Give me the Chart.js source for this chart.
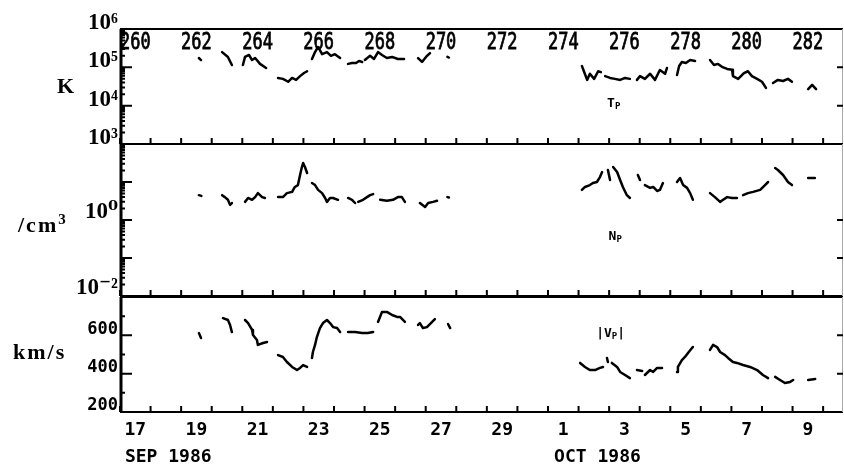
<!DOCTYPE html>
<html>
<head>
<meta charset="utf-8">
<title>Solar wind plasma, Sep - Oct 1986</title>
<script src="https://cdn.jsdelivr.net/npm/chart.js@4.4.1/dist/chart.umd.min.js"></script>
<style>
  body { margin: 0; background: #fff; }
  #plot { position: relative; width: 844px; height: 468px; background: #fff; overflow: hidden; }
  #plot canvas { position: absolute; left: 0; }
  .unit { position: absolute; font: bold 22px "Liberation Serif", "DejaVu Serif", serif; color: #000; line-height: 1; white-space: nowrap; }
  .unit sup { font-size: 15px; vertical-align: 8px; line-height: 0; }
</style>
</head>
<body>
<div id="plot">
  <canvas id="tpChart" width="844" height="146" style="top:0"></canvas>
  <canvas id="npChart" width="844" height="160" style="top:140px"></canvas>
  <canvas id="vpChart" width="844" height="175" style="top:293px"></canvas>
  <div class="unit" style="left:57px;top:75px">K</div>
  <div class="unit" style="left:18px;top:214px;letter-spacing:2px">/cm<sup>3</sup></div>
  <div class="unit" style="left:13px;top:341px;letter-spacing:2px">km/s</div>
</div>
<script>
// time axis is day of year 1986 (260 = 17 Sep)
var dayMin = 260;
var dayMax = 283.65;

var doyTickDays = [260.5, 262.5, 264.5, 266.5, 268.5, 270.5, 272.5, 274.5, 276.5, 278.5, 280.5, 282.5];
var doyTickLabels = ["260", "262", "264", "266", "268", "270", "272", "274", "276", "278", "280", "282"];
var dateTickLabels = ["17", "19", "21", "23", "25", "27", "29", "1", "3", "5", "7", "9"];
var monthDays = [260.16, 274.2];
var monthLabels = ["SEP 1986", "OCT 1986"];

var tempTicks = [1e3, 1e4, 1e5, 1e6];
var tempTickLabels = ["10³", "10⁴", "10⁵", "10⁶"];
var densTicks = [1e-2, 1e-1, 1, 10, 100];
var densTickLabels = ["10⁻²", "", "10⁰", "", ""];
var speedTicks = [200, 300, 400, 500, 600, 700, 800];
var speedTickLabels = ["200", "", "400", "", "600", "", ""];

// proton temperature Tp (K), null = data gap
var tpDays = [
  262.58, 262.65, 263.0,
  263.34, 263.53, 263.66, 263.8,
  264.02, 264.09, 264.22, 264.32, 264.42, 264.58, 264.78, 265.0,
  265.17, 265.33, 265.50, 265.63, 265.76, 265.89, 266.02, 266.12, 266.2,
  266.28, 266.38, 266.48, 266.61, 266.77, 266.90, 267.03, 267.20, 267.3,
  267.46, 267.59, 267.72, 267.82, 267.92, 267.96,
  268.01, 268.18, 268.31, 268.44, 268.57, 268.73, 268.90, 269.09, 269.29, 269.5,
  269.75, 269.88, 270.01, 270.14, 270.4,
  270.71, 270.76, 272.0,
  275.11, 275.28, 275.37, 275.51, 275.64, 275.73, 275.8,
  275.87, 276.03, 276.19, 276.36, 276.52, 276.68, 276.8,
  276.91, 277.01, 277.17, 277.34, 277.50, 277.66, 277.83, 277.89, 278.0,
  278.22, 278.29, 278.38, 278.51, 278.65, 278.81, 279.0,
  279.30, 279.43, 279.56, 279.69, 279.86, 280.02, 280.05, 280.22, 280.41, 280.54, 280.67, 280.84, 281.00, 281.13, 281.25,
  281.36, 281.52, 281.69, 281.85, 281.98, 282.2,
  282.51, 282.64, 282.77
];
var tpValues = [
  1.75e5, 1.55e5, null,
  2.5e5, 1.86e5, 1.15e5, null,
  1.15e5, 1.87e5, 2.1e5, 1.55e5, 1.75e5, 1.23e5, 9.6e4, null,
  5.3e4, 5.0e4, 4.2e4, 5.3e4, 4.7e4, 5.9e4, 7.1e4, 7.9e4, null,
  1.65e5, 2.5e5, 3.4e5, 2.2e5, 2.5e5, 2.0e5, 2.2e5, 1.75e5, null,
  1.23e5, 1.3e5, 1.3e5, 1.47e5, 1.38e5, null,
  1.55e5, 2.0e5, 1.65e5, 2.5e5, 2.1e5, 1.75e5, 1.87e5, 1.65e5, 1.65e5, null,
  1.75e5, 1.38e5, 1.87e5, 2.35e5, null,
  1.87e5, 1.8e5, null,
  1.08e5, 4.7e4, 6.8e4, 5.0e4, 7.9e4, 7.5e4, null,
  5.9e4, 5.3e4, 5.0e4, 4.7e4, 5.3e4, 5.0e4, null,
  4.7e4, 5.9e4, 5.0e4, 6.8e4, 4.7e4, 8.5e4, 6.8e4, 9.6e4, null,
  6.3e4, 1.08e5, 1.38e5, 1.3e5, 1.55e5, 1.47e5, null,
  1.55e5, 1.15e5, 1.23e5, 1.03e5, 9.1e4, 8.6e4, 5.9e4, 5.0e4, 7.1e4, 7.9e4, 5.9e4, 5.0e4, 4.2e4, 2.9e4, null,
  3.9e4, 4.7e4, 4.4e4, 5.0e4, 4.2e4, null,
  2.7e4, 3.5e4, 2.7e4
];

// proton density Np (/cm3)
var npDays = [
  262.58, 262.66, 263.0,
  263.34, 263.43, 263.53, 263.60, 263.66, 263.9,
  264.09, 264.19, 264.32, 264.42, 264.51, 264.65, 264.74, 265.0,
  265.17, 265.33, 265.46, 265.63, 265.72, 265.82, 265.89, 265.95, 265.99, 266.05, 266.12, 266.2,
  266.28, 266.38, 266.48, 266.61, 266.71, 266.77, 266.87, 266.97, 267.13, 267.3,
  267.46, 267.59, 267.69, 267.74,
  267.79, 267.95, 268.08, 268.18, 268.28, 268.4,
  268.51, 268.73, 268.93, 269.09, 269.22, 269.32, 269.6,
  269.81, 269.98, 270.08, 270.24, 270.37, 270.5,
  270.71, 270.76, 272.0,
  275.11, 275.21, 275.37, 275.47, 275.60, 275.70, 275.77, 275.85,
  275.96, 276.03, 276.08,
  276.13, 276.26, 276.36, 276.45, 276.58, 276.68, 276.8,
  276.94, 277.01, 277.1,
  277.17, 277.34, 277.44, 277.57, 277.66, 277.76, 278.0,
  278.22, 278.32, 278.42, 278.55, 278.65, 278.74, 279.0,
  279.30, 279.46, 279.63, 279.73, 279.86, 280.02, 280.18, 280.28,
  280.38, 280.54, 280.71, 280.94, 281.10, 281.20, 281.3,
  281.43, 281.52, 281.69, 281.85, 281.98, 282.2,
  282.51, 282.73
];
var npValues = [
  4.5, 4.3, null,
  4.5, 4.0, 3.4, 2.5, 2.8, null,
  3.0, 3.8, 3.4, 4.0, 5.1, 4.0, 3.8, null,
  4.0, 4.0, 5.1, 5.5, 7.4, 8.3, 15.3, 24.8, 31.6, 24.8, 17.3, null,
  9.4, 8.3, 6.2, 5.1, 3.8, 3.0, 3.8, 3.8, 3.4, null,
  3.8, 3.4, 2.8, null,
  3.0, 3.4, 4.0, 4.5, 4.8, null,
  3.4, 3.2, 3.4, 4.0, 4.0, 3.0, null,
  2.8, 2.2, 2.8, 3.0, 3.2, null,
  4.0, 3.9, null,
  6.2, 7.4, 8.3, 9.4, 10, 13.5, 18.3, null,
  20.7, 11.3, null,
  24.8, 18.3, 11.3, 7.4, 4.5, 3.8, null,
  15.3, 11.3, null,
  8.3, 7.0, 7.4, 5.8, 6.2, 9.4, null,
  10, 12.7, 8.3, 7.0, 5.1, 3.4, null,
  5.1, 4.0, 3.0, 3.4, 4.0, 3.8, 3.8, null,
  4.5, 5.1, 5.5, 6.2, 8.3, 10, null,
  23.4, 20.7, 15.3, 10, 8.3, null,
  12.7, 12.7
];

// proton speed |Vp| (km/s)
var vpDays = [
  262.58, 262.65, 263.0,
  263.37, 263.53, 263.60, 263.66, 263.9,
  264.09, 264.19, 264.32, 264.35, 264.48, 264.51, 264.68, 264.81, 265.0,
  265.17, 265.33, 265.46, 265.63, 265.79, 265.89, 265.99, 266.12, 266.2,
  266.28, 266.31, 266.38, 266.44, 266.54, 266.64, 266.77, 266.87, 266.97, 267.10, 267.20, 267.3,
  267.46, 267.69, 267.92, 268.11, 268.28, 268.36,
  268.44, 268.57, 268.73, 268.90, 269.06, 269.16, 269.32, 269.5,
  269.75, 269.81, 269.91, 270.04, 270.21, 270.30, 270.5,
  270.73, 270.80, 272.0,
  275.05, 275.21, 275.37, 275.54, 275.70, 275.80, 275.86,
  275.93, 275.96, 276.02,
  276.09, 276.26, 276.36, 276.52, 276.68, 276.8,
  276.91, 277.08, 277.12,
  277.17, 277.34, 277.44, 277.57, 277.73, 278.0,
  278.22, 278.25, 278.38, 278.48, 278.58, 278.71, 278.74, 279.0,
  279.30, 279.40, 279.53, 279.63, 279.79, 279.89, 280.05, 280.18, 280.38, 280.61, 280.84, 281.03, 281.20, 281.3,
  281.43, 281.59, 281.75, 281.92, 282.02, 282.2,
  282.51, 282.74
];
var vpValues = [
  612, 586, null,
  690, 680, 654, 617, null,
  680, 664, 628, 602, 576, 550, 560, 565, null,
  497, 487, 461, 435, 419, 430, 445, 435, null,
  482, 513, 550, 591, 638, 664, 680, 664, 643, 638, 617, null,
  617, 617, 612, 612, 617, null,
  670, 722, 722, 706, 696, 696, 670, null,
  654, 664, 638, 643, 670, 685, null,
  659, 638, null,
  456, 435, 419, 419, 430, 435, null,
  482, 461, null,
  456, 435, 409, 393, 377, null,
  419, 414, null,
  393, 419, 409, 430, 430, null,
  409, 435, 471, 487, 508, 534, 539, null,
  524, 550, 539, 513, 497, 482, 461, 456, 445, 435, 419, 393, 377, null,
  383, 367, 351, 357, 367, null,
  367, 372
];

Chart.defaults.color = "#000";

// frame, inward tick marks and the plotter-style lettering
var panelFrame = {
  id: "panelFrame",
  afterDraw: function(chart, args, opts) {
    var ctx = chart.ctx;
    var a = chart.chartArea;
    var xs = chart.scales.x;
    var ys = chart.scales.y;
    ctx.save();
    ctx.strokeStyle = "#000";
    ctx.fillStyle = "#000";

    ctx.lineWidth = 2;
    ctx.beginPath();
    ctx.moveTo(a.left, a.top); ctx.lineTo(a.right, a.top);
    ctx.moveTo(a.left, a.bottom); ctx.lineTo(a.right, a.bottom);
    ctx.stroke();
    ctx.lineWidth = 3;
    ctx.beginPath();
    ctx.moveTo(a.left + 1, a.top); ctx.lineTo(a.left + 1, a.bottom);
    ctx.stroke();
    ctx.lineWidth = 1;
    ctx.strokeStyle = "#aaa";
    ctx.beginPath();
    ctx.moveTo(a.right - 0.5, a.top); ctx.lineTo(a.right - 0.5, a.bottom);
    ctx.stroke();

    // day ticks on the bottom edge
    ctx.strokeStyle = "#000";
    ctx.lineWidth = 2;
    ctx.beginPath();
    for (var d = Math.ceil(xs.min); d <= xs.max; d++) {
      var px = xs.getPixelForValue(d);
      ctx.moveTo(px, a.bottom); ctx.lineTo(px, a.bottom - 6);
    }
    ctx.stroke();

    // left axis ticks
    var isLog = ys.type === "logarithmic";
    ctx.beginPath();
    ys.ticks.forEach(function(t) {
      var py = ys.getPixelForValue(t.value);
      var len = (isLog || t.label) ? 12 : 5;
      ctx.moveTo(a.left, py); ctx.lineTo(a.left + len, py);
      if (isLog && t.value < ys.max) {
        for (var k = 2; k <= 9; k++) {
          var my = ys.getPixelForValue(t.value * k);
          ctx.moveTo(a.left, my); ctx.lineTo(a.left + 5, my);
        }
      }
    });
    (opts.rightTicks || []).forEach(function(v) {
      var ry = ys.getPixelForValue(v);
      ctx.moveTo(a.right, ry); ctx.lineTo(a.right - 6, ry);
    });
    ctx.stroke();

    // parameter name inside the panel
    if (opts.note) {
      var n = opts.note;
      var nx = xs.getPixelForValue(n.day);
      var ny = ys.getPixelForValue(n.value);
      ctx.textBaseline = "middle";
      ctx.textAlign = "left";
      ctx.font = "bold 13px 'DejaVu Sans Mono'";
      var w1 = ctx.measureText(n.pre).width;
      ctx.font = "bold 9px 'DejaVu Sans Mono'";
      var w2 = ctx.measureText(n.sub).width;
      ctx.font = "bold 13px 'DejaVu Sans Mono'";
      var w3 = ctx.measureText(n.post).width;
      var sx = nx - (w1 + w2 + w3) / 2;
      ctx.fillText(n.pre, sx, ny);
      ctx.font = "bold 9px 'DejaVu Sans Mono'";
      ctx.fillText(n.sub, sx + w1, ny + 3);
      ctx.font = "bold 13px 'DejaVu Sans Mono'";
      ctx.fillText(n.post, sx + w1 + w2, ny);
    }

    // day-of-year numbers along the top of the first panel
    if (opts.doyLabels) {
      ctx.save();
      ctx.beginPath();
      ctx.rect(a.left + 2, a.top, a.right - a.left, a.bottom - a.top);
      ctx.clip();
      ctx.font = "17px 'DejaVu Sans Mono'";
      ctx.textAlign = "center";
      ctx.textBaseline = "middle";
      ctx.lineWidth = 0.6;
      doyTickDays.forEach(function(day, i) {
        ctx.save();
        ctx.translate(xs.getPixelForValue(day), a.top + 14);
        ctx.scale(1, 1.3);
        ctx.fillText(doyTickLabels[i], 0, 0);
        ctx.strokeText(doyTickLabels[i], 0, 0);
        ctx.restore();
      });
      ctx.restore();
    }

    if (opts.months) {
      ctx.font = "bold 18px 'DejaVu Sans Mono'";
      ctx.textAlign = "left";
      ctx.textBaseline = "middle";
      monthDays.forEach(function(day, i) {
        ctx.fillText(monthLabels[i], xs.getPixelForValue(day), a.bottom + 45);
      });
    }
    ctx.restore();
  }
};

// keep Chart.js from reserving room for label overhang, so panels line up
function noOverhang(s) {
  s.paddingTop = 0;
  s.paddingBottom = 0;
  s.paddingLeft = 0;
  s.paddingRight = 0;
}

function yAxis(type, min, max, ticks, labels, shift) {
  return {
    type: type,
    min: min,
    max: max,
    afterBuildTicks: function(s) {
      s.ticks = ticks.map(function(v) { return {value: v}; });
    },
    afterFit: function(s) {
      s.width = 120;
      noOverhang(s);
    },
    grid: {display: false, drawTicks: false},
    border: {display: false},
    ticks: {
      autoSkip: false,
      padding: 2,
      labelOffset: shift,
      color: "#000",
      font: type === "logarithmic"
        ? {family: "'Liberation Serif', 'DejaVu Serif'", size: 23, weight: "bold"}
        : {family: "'DejaVu Sans Mono'", size: 17, weight: "bold"},
      callback: function(v, i) { return labels[i]; }
    }
  };
}

var hiddenX = {type: "linear", min: dayMin, max: dayMax, display: false};

var dateX = {
  type: "linear",
  min: dayMin,
  max: dayMax,
  afterBuildTicks: function(s) {
    s.ticks = doyTickDays.map(function(v) { return {value: v}; });
  },
  afterFit: function(s) {
    s.height = 56;
    noOverhang(s);
  },
  grid: {display: false, drawTicks: false},
  border: {display: false},
  ticks: {
    autoSkip: false,
    maxRotation: 0,
    padding: 8,
    color: "#000",
    font: {family: "'DejaVu Sans Mono'", size: 18, weight: "bold"},
    callback: function(v, i) { return dateTickLabels[i]; }
  }
};

function makePanel(id, days, values, xScale, yScale, padding, frame) {
  var points = days.map(function(d, i) { return {x: d, y: values[i]}; });
  return new Chart(document.getElementById(id), {
    type: "line",
    data: {
      datasets: [{
        data: points,
        borderColor: "#000",
        borderWidth: 2.5,
        borderCapStyle: "round",
        borderJoinStyle: "round",
        pointRadius: 0,
        spanGaps: false,
        tension: 0
      }]
    },
    options: {
      responsive: false,
      animation: false,
      devicePixelRatio: 1,
      layout: {padding: padding},
      plugins: {
        legend: {display: false},
        tooltip: {enabled: false},
        panelFrame: frame
      },
      scales: {x: xScale, y: yScale}
    },
    plugins: [panelFrame]
  });
}

makePanel("tpChart", tpDays, tpValues, hiddenX,
  yAxis("logarithmic", 1e3, 1e6, tempTicks, tempTickLabels, -6),
  {top: 29, bottom: 2, left: 0, right: 1},
  {rightTicks: [1e4, 1e5], doyLabels: true, note: {pre: "T", sub: "P", post: "", day: 276.15, value: 1.1e4}});

makePanel("npChart", npDays, npValues, hiddenX,
  yAxis("logarithmic", 1e-2, 1e2, densTicks, densTickLabels, -8),
  {top: 4, bottom: 4, left: 0, right: 1},
  {rightTicks: [1e-1, 1], note: {pre: "N", sub: "P", post: "", day: 276.2, value: 0.36}});

makePanel("vpChart", vpDays, vpValues, dateX,
  yAxis("linear", 200, 800, speedTicks, speedTickLabels, -6),
  {top: 4, bottom: 0, left: 0, right: 1},
  {rightTicks: [400, 600], months: true, note: {pre: "|V", sub: "P", post: "|", day: 276.05, value: 607}});
</script>
</body>
</html>
